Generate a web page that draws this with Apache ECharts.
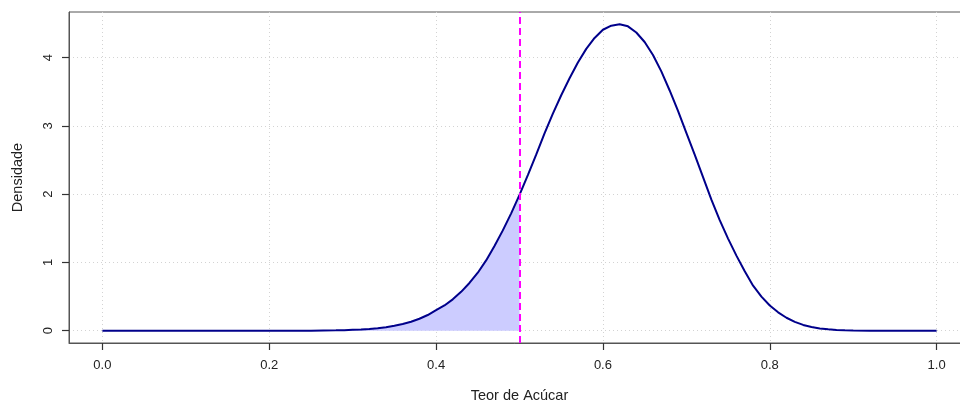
<!DOCTYPE html>
<html>
<head>
<meta charset="utf-8">
<script src="https://cdn.jsdelivr.net/npm/echarts@6/dist/echarts.min.js"></script>
<style>html,body{margin:0;padding:0;background:#fff}#c{width:960px;height:401px}</style>
</head>
<body>
<div id="c"></div>
<script>
// Data
const xValues = [0.00,0.10,0.20,0.25,0.28,0.29,
  0.30,0.31,0.32,0.33,0.34,0.35,0.36,0.37,0.38,0.39,
  0.40,0.41,0.42,0.43,0.44,0.45,0.46,0.47,0.48,0.49,
  0.50,0.51,0.52,0.53,0.54,0.55,0.56,0.57,0.58,0.59,
  0.60,0.61,0.62,0.63,0.64,0.65,0.66,0.67,0.68,0.69,
  0.70,0.71,0.72,0.73,0.74,0.75,0.76,0.77,0.78,0.79,
  0.80,0.81,0.82,0.83,0.84,0.85,0.86,0.87,0.88,0.89,
  0.90,0.92,0.95,1.00];
const densityValues = [0,0,0,0.001,0.005,0.008,
  0.013,0.018,0.026,0.037,0.052,0.072,0.098,0.132,0.175,0.23,
  0.30,0.37,0.46,0.57,0.70,0.85,1.03,1.24,1.47,1.72,
  1.99,2.28,2.58,2.89,3.18,3.45,3.70,3.93,4.13,4.29,
  4.41,4.47,4.49,4.46,4.37,4.23,4.04,3.80,3.52,3.22,
  2.90,2.58,2.25,1.92,1.62,1.35,1.10,0.87,0.66,0.50,
  0.37,0.27,0.19,0.13,0.085,0.055,0.034,0.02,0.011,0.006,
  0.003,0.001,0,0];
const cutoff = 0.5;
const xTicks = [0.0,0.2,0.4,0.6,0.8,1.0];
const yTicks = [0,1,2,3,4];
const xLabels = ['0.0','0.2','0.4','0.6','0.8','1.0'];
const yLabels = ['0','1','2','3','4'];

const curve = xValues.map((x,i)=>[x,densityValues[i]]);
const shaded = curve.filter(p=>p[0] <= cutoff);

const chart = echarts.init(document.getElementById('c'), null, {renderer:'canvas'});
const gridStyle = {color:'#d3d3d3', width:1, type:[1,3]};
const tickStyle = {color:'#333333', width:1.2};
chart.setOption({
  animation:false,
  grid:{left:69, top:12, width:901, height:331, show:true, borderColor:'#555', borderWidth:1,
    containLabel:false, outerBoundsMode:'none'},
  xAxis:{
    type:'value', min:-0.04, max:1.04,
    name:'Teor de Acúcar', nameLocation:'middle', nameGap:45,
    nameTextStyle:{fontFamily:'Liberation Sans', fontSize:14.5, color:'#222'},
    axisLine:{show:true, onZero:false, lineStyle:{color:'#555'}},
    axisTick:{show:true, length:7, lineStyle:tickStyle, customValues:xTicks},
    axisLabel:{customValues:xTicks, margin:16, fontFamily:'Liberation Sans', fontSize:13, color:'#222',
      formatter:(v)=>{const i=xTicks.findIndex(t=>Math.abs(t-v)<1e-9); return i>=0?xLabels[i]:'';}},
    splitLine:{show:true, lineStyle:gridStyle}
  },
  yAxis:{
    type:'value', min:-0.18, max:4.67,
    name:'Densidade', nameLocation:'middle', nameGap:44, nameRotate:90,
    nameTextStyle:{fontFamily:'Liberation Sans', fontSize:14.5, color:'#222'},
    axisLine:{show:true, onZero:false, lineStyle:{color:'#555'}},
    axisTick:{show:true, length:7, lineStyle:tickStyle, customValues:yTicks},
    axisLabel:{customValues:yTicks, margin:14, rotate:90, fontFamily:'Liberation Sans', fontSize:13, color:'#222',
      formatter:(v)=>{const i=yTicks.findIndex(t=>Math.abs(t-v)<1e-9); return i>=0?yLabels[i]:'';}},
    splitLine:{show:true, lineStyle:gridStyle}
  },
  series:[
    {
      type:'line', data:shaded, showSymbol:false, symbol:'none', silent:true,
      lineStyle:{width:0, opacity:0}, areaStyle:{color:'#ccccff', opacity:1}, z:2
    },
    {
      type:'line', data:curve, showSymbol:false, symbol:'none', silent:true,
      lineStyle:{color:'#00008b', width:2}, z:4,
      markLine:{silent:true, symbol:['none','none'], label:{show:false},
        lineStyle:{color:'#ff00ff', width:2, type:[7,4]},
        data:[{xAxis:cutoff}]}
    }
  ]
});
</script>
</body>
</html>
